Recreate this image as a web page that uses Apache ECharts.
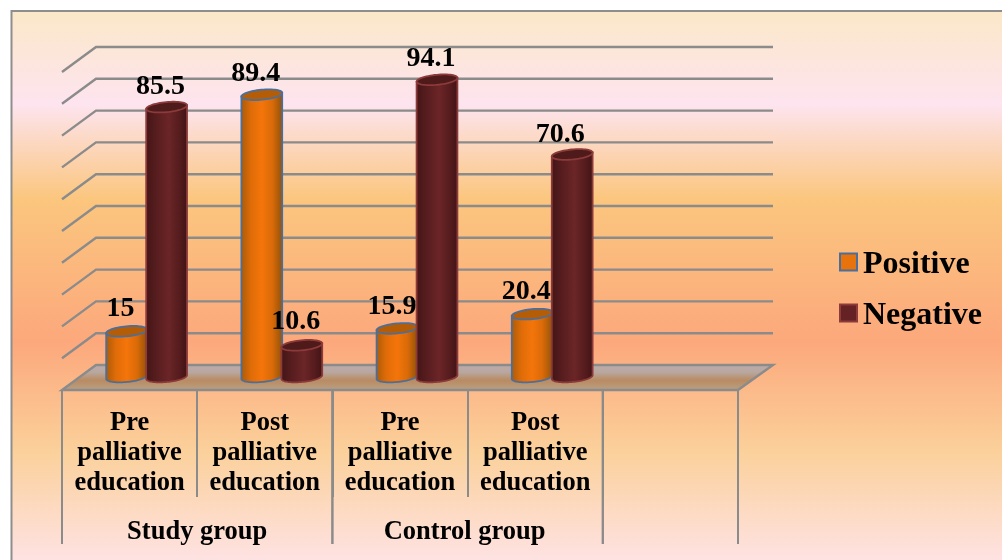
<!DOCTYPE html>
<html>
<head>
<meta charset="utf-8">
<style>html,body{margin:0;padding:0;background:#fff}#c{width:1002px;height:560px}</style>
<script src="https://cdn.jsdelivr.net/npm/echarts@6/dist/echarts.min.js"></script>
</head>
<body>
<div id="c"></div>
<script>
const categories = ['Pre\npalliative\neducation', 'Post\npalliative\neducation', 'Pre\npalliative\neducation', 'Post\npalliative\neducation', ''];
const groupNames = ['Study group', 'Control group', ''];
const groupStart = [0, 2, 4];
const groupSpan = [2, 2, 1];
const positive = [15, 89.4, 15.9, 20.4];
const negative = [85.5, 10.6, 94.1, 70.6];
const gridTicks = [0, 10, 20, 30, 40, 50, 60, 70, 80, 90, 100];

const FONT = '"Liberation Serif","Times New Roman",serif';
const GRID = '#8b8b8b';
const DEPTH_X = 34, DEPTH_Y = 25;
const TILT = -5.5 * Math.PI / 180;
const RX = 20.5, RY = 5;

function ellipsePoint(cx, cy, t) {
  const x = RX * Math.cos(t), y = RY * Math.sin(t);
  return [cx + x * Math.cos(TILT) - y * Math.sin(TILT), cy + x * Math.sin(TILT) + y * Math.cos(TILT)];
}
function cylinderItem(sign, style, nudge) {
  return function (params, api) {
    const idx = api.value(0), val = api.value(1);
    const cx = api.coord([idx, 0])[0] + DEPTH_X / 2 + sign * 20;
    const base = api.coord([idx, 0])[1] - 13;
    const top = api.coord([idx, val])[1] - 11;
    const side = [];
    for (let i = 0; i <= 40; i++) side.push(ellipsePoint(cx, base, Math.PI - Math.PI * i / 40));
    side.push(ellipsePoint(cx, top, 0));
    side.push(ellipsePoint(cx, top, Math.PI));
    const cap = [];
    for (let i = 0; i < 60; i++) cap.push(ellipsePoint(cx, top, 2 * Math.PI * i / 60));
    const n = nudge[params.dataIndex] || [0, 0];
    return {
      type: 'group',
      children: [
        { type: 'polygon', shape: { points: side }, style: {
            fill: { type: 'linear', x: 0, y: 0, x2: 1, y2: 0, colorStops: style.stops },
            stroke: style.stroke, lineWidth: 1.8 } },
        { type: 'polygon', shape: { points: cap }, style: { fill: style.cap, stroke: style.stroke, lineWidth: 1.8 } },
        { type: 'text', z2: 100, style: {
            x: cx - 6 + n[0], y: top - 22 + n[1], text: String(val),
            font: 'bold 28px ' + FONT, fill: '#000', textAlign: 'center', textVerticalAlign: 'middle' } }
      ]
    };
  };
}

const orange = { stops: [{offset:0,color:'#a85a08'},{offset:0.25,color:'#e06c08'},{offset:0.5,color:'#f4750a'},{offset:0.75,color:'#d96a08'},{offset:1,color:'#8c500a'}], stroke:'#4a6f9c', cap:'#b55c06' };
const maroon = { stops: [{offset:0,color:'#431516'},{offset:0.3,color:'#5a1e20'},{offset:0.55,color:'#6b2527'},{offset:0.8,color:'#561c1e'},{offset:1,color:'#3f1314'}], stroke:'#8c3a3a', cap:'#4e1a1a' };

const chart = echarts.init(document.getElementById('c'), null, { renderer: 'canvas' });
chart.setOption({
  animation: false,
  graphic: [{
    type: 'rect', z: -10, silent: true,
    shape: { x: 11.5, y: 11, width: 1010, height: 570 },
    style: {
      stroke: '#8e8e8e', lineWidth: 2,
      fill: { type: 'linear', x: 0, y: 0, x2: 0, y2: 1, colorStops: [
        {offset:0,color:'#fbe8c8'},{offset:0.165,color:'#fde4ef'},{offset:0.33,color:'#fbc67e'},
        {offset:0.58,color:'#fca87c'},{offset:0.77,color:'#fbd09a'},{offset:0.96,color:'#fee2e2'}] }
    }
  }],
  grid: { left: 62, top: 72, width: 676, height: 318 },
  xAxis: {
    type: 'category', data: categories, boundaryGap: true,
    axisLine: { show: false },
    axisTick: { show: true, length: 107, alignWithLabel: false, lineStyle: { color: GRID, width: 2 } },
    axisLabel: { interval: 0, margin: 18, color: '#000', fontFamily: FONT, fontWeight: 'bold', fontSize: 26.5, lineHeight: 30, hideOverlap: false },
    splitLine: { show: false }
  },
  yAxis: { type: 'value', min: 0, max: 100, interval: 10, show: false },
  legend: {
    orient: 'vertical', left: 839, top: 243, padding: 0, itemWidth: 17, itemHeight: 17, itemGap: 13,
    formatter: '{t|{name}}',
    textStyle: { fontFamily: FONT, fontWeight: 'bold', fontSize: 32, color: '#000',
      rich: { t: { fontFamily: FONT, fontWeight: 'bold', fontSize: 32, lineHeight: 34, color: '#000', padding: [6, 0, 0, 1] } } },
    data: [
      { name: 'Positive', icon: 'rect', itemStyle: { color: '#e8720c', borderColor: '#4a6f9c', borderWidth: 2 } },
      { name: 'Negative', icon: 'rect', itemStyle: { color: '#652224', borderColor: '#8c3a3a', borderWidth: 2 } }
    ]
  },
  series: [
    {
      type: 'custom', name: 'walls', silent: true, z: 1, clip: false,
      data: gridTicks.map(v => [0, v]),
      renderItem(params, api) {
        const v = api.value(1), y = api.coord([0, v])[1];
        const x0 = params.coordSys.x, x1 = x0 + params.coordSys.width;
        if (v === 0) {
          return { type: 'polygon',
            shape: { points: [[x0, y], [x1, y], [x1 + DEPTH_X + 1, y - DEPTH_Y], [x0 + DEPTH_X, y - DEPTH_Y]] },
            style: { stroke: GRID, lineWidth: 2.4,
              fill: { type: 'linear', x: 0, y: 0, x2: 0, y2: 1, colorStops: [
                {offset:0,color:'#bdaaaa'},{offset:0.3,color:'#b8a8a0'},{offset:0.6,color:'#b98b62'},{offset:1,color:'#b8a288'}] } } };
        }
        return { type: 'polyline',
          shape: { points: [[x0, y], [x0 + DEPTH_X, y - DEPTH_Y], [x1 + DEPTH_X + 1, y - DEPTH_Y]] },
          style: { stroke: GRID, lineWidth: 2.4, fill: 'none' } };
      }
    },
    {
      type: 'custom', name: 'groups', silent: true, z: 1, clip: false,
      data: groupStart.map((s, i) => [s, 0]),
      renderItem(params, api) {
        const i = params.dataIndex;
        const band = api.size([1, 0])[0];
        const yb = api.coord([0, 0])[1];
        const xa = api.coord([groupStart[i], 0])[0] - band / 2;
        const xb = xa + band * groupSpan[i];
        const line = x => ({ type: 'line', shape: { x1: x, y1: yb, x2: x, y2: yb + 154 }, style: { stroke: GRID, lineWidth: 2 } });
        const shift = i === 1 ? -3 : 0;
        return { type: 'group', children: [
          line(xa), line(xb),
          { type: 'text', style: { x: (xa + xb) / 2 + shift, y: yb + 142, text: groupNames[i],
              font: 'bold 26.5px ' + FONT, fill: '#000', textAlign: 'center', textVerticalAlign: 'middle' } }
        ] };
      }
    },
    {
      type: 'custom', name: 'Positive', z: 3, clip: false, itemStyle: { color: '#e8720c' },
      data: positive.map((v, i) => [i, v]),
      renderItem: cylinderItem(-1, orange, { 0: [0, -1], 1: [0, 1], 2: [1, 0] })
    },
    {
      type: 'custom', name: 'Negative', z: 3, clip: false, itemStyle: { color: '#652224' },
      data: negative.map((v, i) => [i, v]),
      renderItem: cylinderItem(1, maroon, { 0: [0, 2], 1: [0, -2], 2: [0, 1], 3: [-6, 2] })
    }
  ]
});
</script>
</body>
</html>
